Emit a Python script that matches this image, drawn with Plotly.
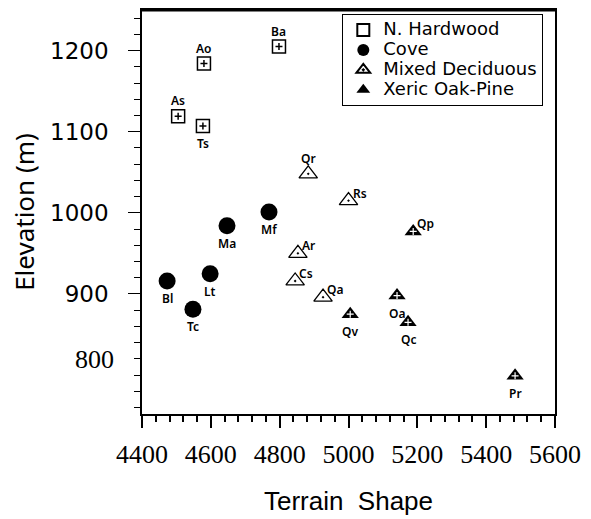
import plotly.graph_objects as go

# ---- data ----
hard_names = ["Ba", "Ao", "As", "Ts"]
hard_x = [4798, 4580, 4505, 4577]
hard_y = [1205, 1184, 1119, 1107]
hard_pos = ["top", "top", "top", "bottom"]

cove_names = ["Mf", "Ma", "Lt", "Bl", "Tc"]
cove_x = [4769, 4647, 4598, 4473, 4548]
cove_y = [1001, 984, 925, 916, 881]
cove_pos = ["bottom"] * 5

mixed_names = ["Qr", "Rs", "Ar", "Cs", "Qa"]
mixed_x = [4883, 5000, 4853, 4845, 4926]
mixed_y = [1048, 1015, 950, 916, 896]
mixed_pos = ["top", "right", "right", "right", "right"]

xeric_names = ["Qp", "Oa", "Qv", "Qc", "Pr"]
xeric_x = [5188, 5141, 5005, 5173, 5484]
xeric_y = [977, 898, 875, 865, 799]
xeric_pos = ["right", "bottom", "bottom", "bottom", "bottom"]

series_names = ["N. Hardwood", "Cove", "Mixed Deciduous", "Xeric Oak-Pine"]

x_ticks = [4400, 4600, 4800, 5000, 5200, 5400, 5600]
y_ticks = [900, 1000, 1100, 1200]
y_low_label = 800

lab_font = dict(family="Noto Sans", size=12, color="black", weight=600)
serif = "Liberation Serif"
arial = "Liberation Sans"


def leg(name):
    return '<span style="font-size:18px">' + name + '</span>'


fig = go.Figure()
fig.add_trace(go.Scatter(x=hard_x, y=hard_y, mode="markers", name=leg(series_names[0]),
                         marker=dict(symbol="square-open", size=13, color="black",
                                     line=dict(width=1.5, color="black"))))
fig.add_trace(go.Scatter(x=cove_x, y=cove_y, mode="markers", name=leg(series_names[1]),
                         marker=dict(symbol="circle", size=17, color="black")))
fig.add_trace(go.Scatter(x=mixed_x, y=mixed_y, mode="markers", name=leg(series_names[2]),
                         marker=dict(symbol="triangle-up-open-dot", size=16, color="black",
                                     line=dict(width=1.3, color="black"))))
fig.add_trace(go.Scatter(x=xeric_x, y=xeric_y, mode="markers", name=leg(series_names[3]),
                         marker=dict(symbol="triangle-up", size=15, color="black")))
# inner crosses
fig.add_trace(go.Scatter(x=hard_x, y=hard_y, mode="markers", showlegend=False, hoverinfo="skip",
                         marker=dict(symbol="cross-thin", size=5, line=dict(width=1.5, color="black"))))
fig.add_trace(go.Scatter(x=xeric_x, y=xeric_y, mode="markers", showlegend=False, hoverinfo="skip",
                         marker=dict(symbol="cross-thin", size=5, line=dict(width=1.2, color="white"))))

# point labels
offsets = {"top": dict(xanchor="center", yanchor="bottom", xshift=0, yshift=6),
           "bottom": dict(xanchor="center", yanchor="top", xshift=0, yshift=-8),
           "right": dict(xanchor="left", yanchor="bottom", xshift=3, yshift=-2)}
annotations = []
for names, xs, ys, pos in [(hard_names, hard_x, hard_y, hard_pos),
                           (cove_names, cove_x, cove_y, cove_pos),
                           (mixed_names, mixed_x, mixed_y, mixed_pos),
                           (xeric_names, xeric_x, xeric_y, xeric_pos)]:
    for n, xv, yv, p in zip(names, xs, ys, pos):
        annotations.append(dict(x=xv, y=yv, text=n, showarrow=False, font=lab_font,
                                borderpad=0, **offsets[p]))

# serif "800" label as printed in the original
annotations.append(dict(x=0, xref="paper", y=y_low_label, yref="y", text=str(y_low_label),
                        showarrow=False, xanchor="right", yanchor="middle", xshift=-26, yshift=16,
                        font=dict(family=serif, size=26, color="black")))

fig.update_layout(
    width=591, height=519,
    margin=dict(l=142, r=36, t=8, b=101),
    paper_bgcolor="white", plot_bgcolor="white",
    showlegend=True,
    annotations=annotations,
    legend=dict(x=0.485, y=0.99, xanchor="left", yanchor="top",
                bgcolor="white", bordercolor="black", borderwidth=1,
                font=dict(family="DejaVu Sans", size=13, color="black"),
                tracegroupgap=0, itemsizing="constant"),
    font=dict(family="Noto Sans", color="black"),
)
fig.add_shape(type="line", xref="paper", yref="paper", x0=0, x1=1, y0=1, y1=1,
              line=dict(color="black", width=3))
fig.update_xaxes(range=[4400, 5600], tickvals=x_ticks, ticks="outside", ticklen=12,
                 tickwidth=1.5, tickcolor="black",
                 minor=dict(dtick=40, ticks="outside", ticklen=6, tickcolor="black"),
                 showline=True, linewidth=2, linecolor="black", mirror=True,
                 showgrid=False, zeroline=False, ticklabelstandoff=4,
                 tickfont=dict(family=serif, size=26, color="black"),
                 title=dict(text="Terrain  Shape", standoff=24,
                            font=dict(family=arial, size=26, color="black")))
fig.update_yaxes(range=[752, 1250], tickvals=y_ticks, ticks="outside",
                 ticklen=12, tickwidth=1.2, tickcolor="black",
                 minor=dict(dtick=20, ticks="outside", ticklen=6, tickcolor="black"),
                 showline=True, linewidth=1.5, linecolor="black", mirror=True,
                 showgrid=False, zeroline=False, ticklabelstandoff=15,
                 tickfont=dict(family="DejaVu Sans", size=23, color="black"),
                 title=dict(text="Elevation (m)", standoff=8,
                            font=dict(family="Noto Sans", size=26, color="black")))

fig.write_html("out.html")
